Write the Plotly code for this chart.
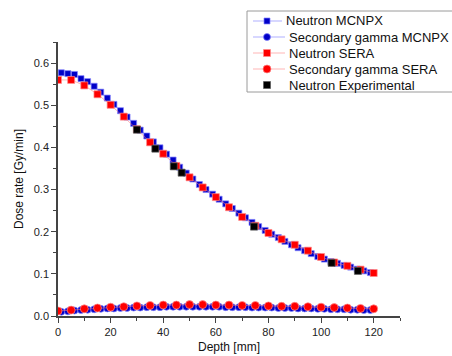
import plotly.graph_objects as go

# ---- data ----
x_mcnpx = [1.25 + 2.5 * i for i in range(48)]
neutron_mcnpx = [0.577, 0.575, 0.573, 0.563, 0.556, 0.545, 0.531, 0.517, 0.502, 0.487,
                 0.472, 0.457, 0.441, 0.427, 0.413, 0.399, 0.384, 0.370, 0.353, 0.339,
                 0.325, 0.312, 0.300, 0.289, 0.277, 0.266, 0.255, 0.244, 0.233, 0.222,
                 0.212, 0.203, 0.194, 0.186, 0.177, 0.169, 0.162, 0.155, 0.148, 0.141,
                 0.135, 0.129, 0.125, 0.120, 0.116, 0.111, 0.107, 0.103]
gamma_mcnpx = [0.010, 0.011, 0.013, 0.014, 0.015, 0.016, 0.017, 0.018, 0.018, 0.019,
               0.019, 0.020, 0.020, 0.021, 0.021, 0.021, 0.022, 0.022, 0.022, 0.022,
               0.022, 0.022, 0.022, 0.022, 0.022, 0.021, 0.021, 0.021, 0.021, 0.020,
               0.020, 0.020, 0.020, 0.019, 0.019, 0.019, 0.018, 0.018, 0.018, 0.017,
               0.017, 0.016, 0.016, 0.016, 0.015, 0.015, 0.014, 0.014]

x_sera = [0, 5, 10, 15, 20, 25, 30, 35, 40, 45, 50, 55, 60, 65, 70, 75, 80, 85, 90, 95,
          100, 105, 110, 115, 120]
neutron_sera = [0.560, 0.560, 0.547, 0.526, 0.501, 0.473, 0.443, 0.412, 0.385, 0.356,
                0.329, 0.305, 0.282, 0.258, 0.235, 0.214, 0.197, 0.182, 0.169, 0.155,
                0.140, 0.127, 0.119, 0.110, 0.102]
gamma_sera = [0.012, 0.014, 0.017, 0.019, 0.021, 0.022, 0.024, 0.025, 0.026, 0.026,
              0.027, 0.027, 0.026, 0.026, 0.025, 0.025, 0.024, 0.023, 0.023, 0.022,
              0.021, 0.020, 0.019, 0.018, 0.017]

x_exp = [30, 37, 44, 47, 74.5, 104, 114]
neutron_exp = [0.442, 0.397, 0.355, 0.340, 0.212, 0.126, 0.107]

x_ticks = [0, 20, 40, 60, 80, 100, 120]
y_ticks = [0.0, 0.1, 0.2, 0.3, 0.4, 0.5, 0.6]

series_names = ["Neutron MCNPX", "Secondary gamma MCNPX", "Neutron SERA",
                "Secondary gamma SERA", "Neutron Experimental"]

BLUE = "#0000c8"
RED = "#ff0000"
BLACK = "#000000"
BLUE_LINE = "rgba(110,110,255,0.55)"
RED_LINE = "rgba(255,120,120,0.55)"
BLUE_EDGE = "rgba(130,130,255,0.7)"
RED_EDGE = "rgba(255,140,140,0.7)"

styles = [
    dict(symbol="square", size=6, color=BLUE, edge=BLUE_EDGE, line=BLUE_LINE),
    dict(symbol="circle", size=7, color=BLUE, edge=BLUE_EDGE, line=BLUE_LINE),
    dict(symbol="square", size=7, color=RED, edge=RED_EDGE, line=RED_LINE),
    dict(symbol="circle", size=8, color=RED, edge=RED_EDGE, line=RED_LINE),
    dict(symbol="square", size=7, color=BLACK, edge="rgba(90,90,90,0.7)", line=None),
]
xs = [x_mcnpx, x_mcnpx, x_sera, x_sera, x_exp]
ys = [neutron_mcnpx, gamma_mcnpx, neutron_sera, gamma_sera, neutron_exp]

fig = go.Figure()
for name, st, xv, yv in zip(series_names, styles, xs, ys):
    fig.add_trace(go.Scatter(
        x=xv, y=yv, name=name,
        mode="lines+markers" if st["line"] else "markers",
        line=dict(color=st["line"] or BLACK, width=1),
        marker=dict(symbol=st["symbol"], size=st["size"], color=st["color"],
                    line=dict(color=st["edge"], width=1)),
        showlegend=False))

W, H = 452, 356
L, R, T, B = 58, 400, 42, 316  # plot area in page pixels
def px_x(p):
    return (p - L) / (R - L)
def px_y(p):
    return (B - p) / (B - T)

# ---- manual legend (compact rows like the original) ----
shapes = [dict(type="rect", xref="paper", yref="paper",
               x0=px_x(247), x1=px_x(470), y0=px_y(92), y1=px_y(11),
               line=dict(color="#9a9a9a", width=1), fillcolor="white", layer="above")]
annotations = []
row_y = [21, 37, 53, 69, 85]
text_x = [284, 287, 287, 287, 287]
for name, st, ry, tx in zip(series_names, styles, row_y, text_x):
    yc = px_y(ry)
    if st["line"]:
        shapes.append(dict(type="line", xref="paper", yref="paper",
                           x0=px_x(253), x1=px_x(tx - 2), y0=yc, y1=yc,
                           line=dict(color=st["line"], width=1), layer="above"))
    h = st["size"] / 2
    shapes.append(dict(type="rect" if st["symbol"] == "square" else "circle",
                       xref="paper", yref="paper",
                       xsizemode="pixel", ysizemode="pixel",
                       xanchor=px_x(267), yanchor=yc,
                       x0=-h, x1=h, y0=-h, y1=h,
                       fillcolor=st["color"], line=dict(color=st["edge"], width=1),
                       layer="above"))
    annotations.append(dict(xref="paper", yref="paper", x=px_x(tx), y=yc,
                            xanchor="left", yanchor="middle", showarrow=False,
                            text=name,
                            font=dict(family="Liberation Sans, Arial", size=13,
                                      color="#111111")))

axis_common = dict(showline=True, linecolor="#444444", linewidth=1.5,
                   ticks="outside", ticklen=5, tickwidth=1, tickcolor="#444444",
                   showgrid=False, zeroline=False, mirror=False, automargin=False,
                   tickfont=dict(family="Liberation Sans, Arial", size=11, color="#222222"))

fig.update_layout(
    width=W, height=H,
    margin=dict(l=L, r=W - R, t=T, b=H - B),
    paper_bgcolor="white", plot_bgcolor="white",
    font=dict(family="Liberation Sans, Arial", color="#111111"),
    xaxis=dict(range=[0, 130], tickvals=x_ticks, ticktext=[str(v) for v in x_ticks],
               minor=dict(ticks="outside", ticklen=3, tickcolor="#444444", dtick=10, tick0=0),
               title=dict(text="Depth [mm]", font=dict(size=12), standoff=6),
               **axis_common),
    yaxis=dict(range=[0, 0.65], tickvals=y_ticks, ticktext=[f"{v:.1f}" for v in y_ticks],
               minor=dict(ticks="outside", ticklen=3, tickcolor="#444444", dtick=0.05, tick0=0),
               title=dict(text="Dose rate [Gy/min]", font=dict(size=12), standoff=8),
               **axis_common),
    shapes=shapes,
    annotations=annotations,
    showlegend=False,
)

fig.write_html("out.html",
               config={"displayModeBar": False},
               post_script="document.body.style.margin='0';document.body.style.overflow='hidden';")
